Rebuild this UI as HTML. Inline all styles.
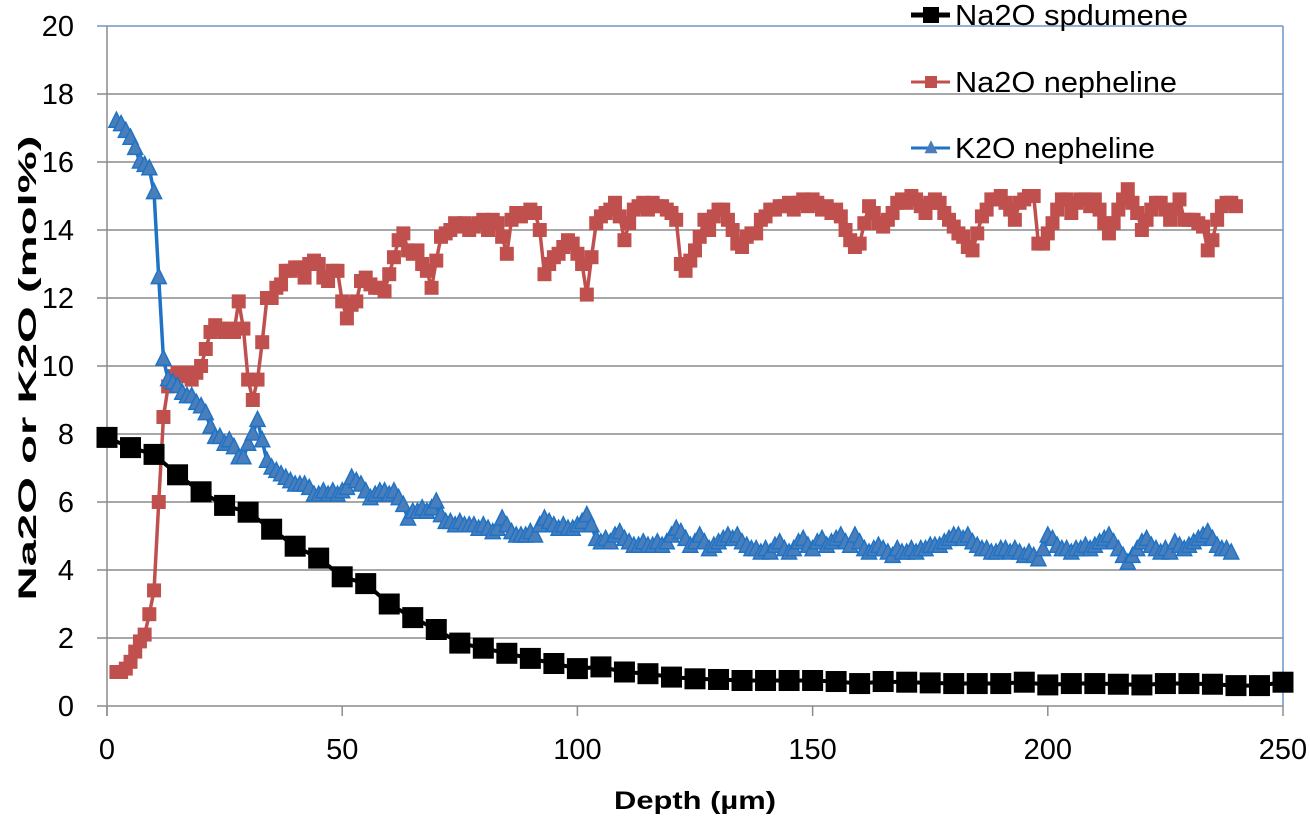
<!DOCTYPE html>
<html><head><meta charset="utf-8"><style>
html,body{margin:0;padding:0;background:#fff;}
svg{display:block;font-family:"Liberation Sans",sans-serif;}
</style></head><body>
<svg id="chart" width="1310" height="816" viewBox="0 0 1310 816" xmlns="http://www.w3.org/2000/svg">
<g id="grid"></g>
<g id="axes"></g>
<g id="series"></g>
<text x="0" y="0" transform="translate(36,368) rotate(-90)" text-anchor="middle" font-weight="bold" font-size="25" textLength="465" lengthAdjust="spacingAndGlyphs">Na2O or K2O (mol%)</text>
<text x="695" y="809" text-anchor="middle" font-weight="bold" font-size="25" textLength="162" lengthAdjust="spacingAndGlyphs">Depth (µm)</text>
<g id="legend"></g>
</svg>
<script>
const xTicks = [0, 50, 100, 150, 200, 250];
const yTicks = [0, 2, 4, 6, 8, 10, 12, 14, 16, 18, 20];
const seriesNames = ["Na2O spdumene", "Na2O nepheline", "K2O nepheline"];
const spodDepth = [0,5,10,15,20,25,30,35,40,45,50,55,60,65,70,75,80,85,90,95,100,105,110,115,120,125,130,135,140,145,150,155,160,165,170,175,180,185,190,195,200,205,210,215,220,225,230,235,240,245,250];
const spodValues = [7.9,7.6,7.4,6.8,6.3,5.9,5.7,5.2,4.7,4.35,3.8,3.6,3.0,2.6,2.25,1.85,1.7,1.55,1.4,1.25,1.1,1.15,1.0,0.95,0.85,0.8,0.78,0.75,0.75,0.75,0.75,0.72,0.66,0.72,0.7,0.68,0.66,0.66,0.66,0.7,0.62,0.66,0.66,0.64,0.62,0.66,0.66,0.64,0.6,0.6,0.7];
const nephStartDepth = 2;
const naNephValues = [1.0,1.0,1.1,1.3,1.6,1.9,2.1,2.7,3.4,6.0,8.5,9.4,9.7,9.8,9.7,9.8,9.6,9.8,10.0,10.5,11.0,11.2,11.1,11.0,11.1,11.0,11.9,11.1,9.6,9.0,9.6,10.7,12.0,12.0,12.3,12.4,12.8,12.8,12.9,12.9,12.6,13.0,13.1,13.0,12.6,12.5,12.8,12.8,11.9,11.4,11.8,11.9,12.5,12.6,12.4,12.3,12.3,12.2,12.7,13.2,13.7,13.9,13.4,13.3,13.4,13.0,12.8,12.3,13.1,13.8,13.9,14.0,14.2,14.1,14.2,14.0,14.1,14.2,14.3,14.0,14.3,14.2,13.8,
13.3,14.3,14.5,14.4,14.5,14.6,14.5,14.0,12.7,13.0,13.2,13.3,13.5,13.7,13.6,13.3,13.0,12.1,13.2,14.2,14.4,14.5,14.6,14.8,14.4,13.7,14.2,14.6,
14.7,14.8,14.6,14.8,14.7,14.7,14.6,14.5,14.3,13.0,12.8,13.1,13.4,13.8,14.3,14.0,14.4,14.6,14.6,14.3,14.0,13.6,13.5,13.8,13.9,13.9,14.3,14.4,14.6,14.6,14.7,14.7,14.8,14.6,14.8,14.9,14.7,14.9,14.8,14.6,14.7,14.5,14.6,14.4,14.0,13.7,13.5,13.6,14.2,14.7,14.5,14.2,14.1,14.3,14.5,14.8,14.9,14.8,15.0,14.9,14.7,14.5,14.8,14.9,14.8,14.5,14.3,14.1,13.9,13.8,13.5,13.4,13.9,14.4,14.6,14.9,14.9,15.0,14.8,14.6,14.3,14.8,14.9,15.0,15.0,13.6,13.6,13.9,14.2,14.6,14.9,14.9,14.5,14.8,14.9,14.9,14.7,14.9,14.6,14.2,13.9,14.2,14.6,14.9,15.2,14.8,14.5,14.0,14.3,14.6,14.8,14.8,14.6,14.3,14.6,14.9,14.3,14.3,14.3,14.2,14.1,13.4,13.7,14.3,14.7,14.8,14.8,14.7];
const kNephValues = [17.2,17.1,16.9,16.7,16.4,16.0,15.9,15.8,15.1,12.6,10.2,9.6,9.5,9.4,9.2,9.1,9.1,8.9,8.8,8.6,8.2,7.9,7.9,7.7,7.8,7.6,7.3,7.3,7.7,8.0,8.4,7.8,7.2,7.0,6.9,6.8,6.7,6.6,6.5,6.5,6.5,6.4,6.2,6.2,6.3,6.2,6.3,6.2,6.3,6.4,6.7,6.6,6.5,6.3,6.1,6.2,6.3,6.3,6.2,6.3,6.1,5.9,5.5,5.7,5.7,5.8,5.7,5.8,6.0,5.6,5.4,5.4,5.3,5.4,5.3,5.3,5.3,5.2,5.3,5.2,5.1,5.2,5.5,5.3,5.1,5.0,5.0,5.0,5.1,5.0,5.3,5.5,5.4,5.3,5.2,5.3,5.2,5.2,5.3,5.4,5.6,5.3,4.9,4.8,4.9,4.8,5.0,5.1,4.9,4.8,4.7,4.7,4.8,4.7,4.7,4.8,4.7,4.8,5.0,5.2,5.1,4.9,4.7,4.8,5.0,4.8,4.6,4.7,4.8,4.9,5.0,4.9,5.0,4.8,4.7,4.6,4.6,4.5,4.6,4.5,4.7,4.8,4.6,4.5,4.6,4.8,4.9,4.7,4.6,4.8,4.9,4.7,4.8,4.9,5.0,4.8,4.7,5.0,4.8,4.6,4.5,4.6,4.7,4.6,4.5,4.4,4.6,4.5,4.5,4.6,4.5,4.6,4.6,4.7,4.7,4.7,4.8,4.9,5.0,5.0,4.9,5.0,4.8,4.7,4.6,4.6,4.5,4.5,4.6,4.6,4.5,4.6,4.5,4.4,4.5,4.4,4.3,4.6,5.0,4.9,4.7,4.6,4.6,4.5,4.6,4.6,4.7,4.6,4.7,4.8,4.9,5.0,4.8,4.6,4.4,4.2,4.4,4.6,4.8,4.9,4.7,4.6,4.5,4.6,4.5,4.8,4.7,4.6,4.7,4.8,4.9,5.0,5.1,4.9,4.7,4.6,4.6,4.5];

const NS = "http://www.w3.org/2000/svg";
const L = 107, R = 1283, T = 26, B = 706;
const xS = v => L + (v - 0) / 250 * (R - L);
const yS = v => B - v / 20 * (B - T);
function mk(tag, attrs, parent) {
  const e = document.createElementNS(NS, tag);
  for (const k in attrs) e.setAttribute(k, attrs[k]);
  parent.appendChild(e);
  return e;
}
const grid = document.getElementById('grid');
const axes = document.getElementById('axes');
const series = document.getElementById('series');
const legend = document.getElementById('legend');

yTicks.forEach(t => {
  const y = yS(t);
  const g = mk('line', {x1: 97, x2: R, y1: y, y2: y, stroke: t === 20 ? '#6f95c8' : '#8c8c8c', 'stroke-width': 1.5}, grid);
  
  
  const lb = mk('text', {x: 74, y: y + 10, 'text-anchor': 'end', 'font-size': 29}, axes);
  lb.textContent = t;
  
  
});
const rb = mk('line', {x1: R, x2: R, y1: T, y2: B, stroke: '#6f95c8', 'stroke-width': 1.5}, grid);


const ya = mk('line', {x1: L, x2: L, y1: T, y2: B + 10, stroke: '#8c8c8c', 'stroke-width': 1.5}, axes);


xTicks.forEach(t => {
  const x = xS(t);
  const tk = mk('line', {x1: x, x2: x, y1: B, y2: B + 10, stroke: '#8c8c8c', 'stroke-width': 1.5}, axes);
  
  
  const lb = mk('text', {x: x, y: 759, 'text-anchor': 'middle', 'font-size': 29}, axes);
  lb.textContent = t;
  
  
});

function tri(cx, cy, s) {
  return `${cx},${cy - s * 0.6} ${cx - s / 2},${cy + s * 0.4} ${cx + s / 2},${cy + s * 0.4}`;
}
function drawSeries(xs, ys, color, fill, lw, marker, ms, name) {
  const g = mk('g', {}, series);
  
  
  const pts = xs.map((x, i) => xS(x) + ',' + yS(ys[i])).join(' ');
  const pl = mk('polyline', {points: pts, fill: 'none', stroke: color, 'stroke-width': lw, 'stroke-linejoin': 'round'}, g);
  
  
  xs.forEach((x, i) => {
    const cx = xS(x), cy = yS(ys[i]);
    let m;
    if (marker === 'sq') m = mk('rect', {x: cx - ms / 2, y: cy - ms / 2, width: ms, height: ms, fill: fill}, g);
    else m = mk('polygon', {points: tri(cx, cy, ms), fill: fill, stroke: color, 'stroke-width': 1.5}, g);
    
    
  });
}
const nephDepthNa = naNephValues.map((_, i) => nephStartDepth + i);
const nephDepthK = kNephValues.map((_, i) => nephStartDepth + i);
drawSeries(nephDepthNa, naNephValues, '#c0504d', '#c0504d', 3.5, 'sq', 14, 'na2o-nepheline-series');
drawSeries(nephDepthK, kNephValues, '#1f73c6', '#4a7ebb', 3.5, 'tri', 15, 'k2o-nepheline-series');
drawSeries(spodDepth, spodValues, '#000', '#000', 4, 'sq', 21, 'na2o-spodumene-series');

const legendY = [15, 82, 148];
const legendColors = ['#000', '#c0504d', '#1f73c6'];
const legendWidths = [233, 222, 200];
seriesNames.forEach((n, i) => {
  const y = legendY[i];
  const g = mk('g', {}, legend);
  
  
  mk('line', {x1: 911, x2: 950, y1: y, y2: y, stroke: legendColors[i], 'stroke-width': i === 0 ? 5 : 3}, g);
  if (i === 2) mk('polygon', {points: tri(931, y, 13), fill: '#4a7ebb'}, g);
  else { const s = i === 0 ? 16 : 12; mk('rect', {x: 931 - s / 2, y: y - s / 2, width: s, height: s, fill: legendColors[i]}, g); }
  const t = mk('text', {x: 955, y: y + 10, 'font-size': 29, textLength: legendWidths[i], lengthAdjust: 'spacingAndGlyphs'}, g);
  t.textContent = n;
  
  
});
</script>
</body></html>
